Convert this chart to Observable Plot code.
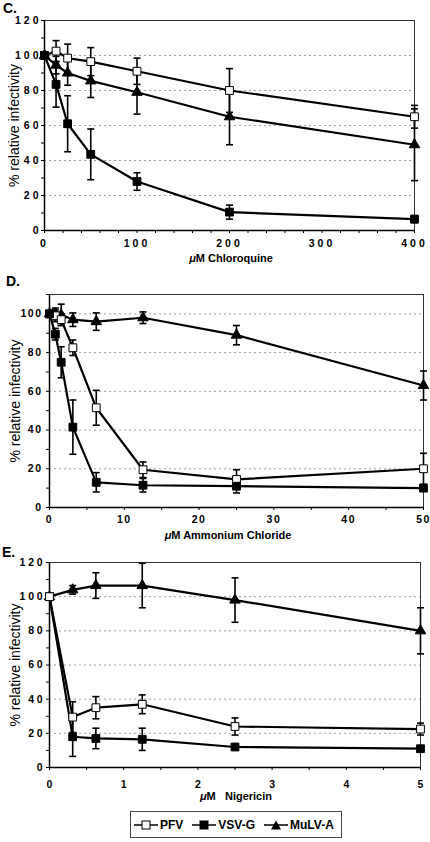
<!DOCTYPE html>
<html><head><meta charset="utf-8">
<script src="https://cdn.jsdelivr.net/npm/d3@7"></script>
<script src="https://cdn.jsdelivr.net/npm/@observablehq/plot@0.6"></script>
<style>
body{margin:0;background:#fff;}
#root{position:relative;width:430px;height:842px;overflow:hidden;font-family:"Liberation Sans",Arial,sans-serif;color:#000;}
.panel{position:absolute;left:0;}
.plabel{position:absolute;font-weight:bold;font-size:14px;line-height:14px;}
.xtitle{position:absolute;font-weight:bold;font-size:11px;line-height:12px;text-align:center;white-space:pre;}
svg.pc g[aria-label="y-axis tick label"] text, svg.pc g[aria-label="x-axis tick label"] text{letter-spacing:3px;}
svg.pd g[aria-label="y-axis tick label"] text, svg.pd g[aria-label="x-axis tick label"] text{letter-spacing:1.5px;}
svg.pe g[aria-label="y-axis tick label"] text{letter-spacing:2.8px;}
#legend{position:absolute;left:130px;top:811px;height:25px;padding-right:2px;border:1.5px solid #444;display:flex;align-items:center;font-weight:bold;font-size:12px;white-space:nowrap;box-sizing:content-box;}
#legend .it{display:flex;align-items:center;margin-left:3px;white-space:nowrap;}
#legend .it span{margin-left:2px;margin-right:6px;}
#legend .it:last-child span{margin-right:5px;}
</style></head><body><div id="root"></div>
<script>
const seriesNames = ["PFV", "VSV-G", "MuLV-A"];
const yTitle = "% relative infectivity";

// Panel C: Chloroquine
const chloroquineDose = [0, 12.5, 25, 50, 100, 200, 400];
const chloroquinePFV = [100, 102.5, 98.5, 96.5, 91, 80, 65];
const chloroquinePFVsd = [0, 6, 8, 8, 7.5, 12.5, 6.5];
const chloroquineVSV = [100, 83.5, 61, 43.5, 28, 10.5, 6.5];
const chloroquineVSVsd = [0, 13, 16, 14.5, 5, 4, 2];
const chloroquineMuLV = [100, 94.5, 90, 85.5, 79, 65, 49];
const chloroquineMuLVsd = [0, 5, 7, 9.5, 12.5, 16, 20.5];
const chloroquineXLabels = [0, 100, 200, 300, 400];
const chloroquineYLabels = [0, 20, 40, 60, 80, 100, 120];

// Panel D: Ammonium Chloride
const ammoniumDose = [0, 0.78, 1.56, 3.125, 6.25, 12.5, 25, 50];
const ammoniumPFV = [100, 99, 97, 82.5, 51.5, 19.5, 14.5, 20];
const ammoniumPFVsd = [0, 3, 3, 4, 9, 4, 5, 8];
const ammoniumVSV = [100, 89.5, 75, 41.5, 13, 11.5, 11, 10];
const ammoniumVSVsd = [0, 3, 8, 14, 5, 3.5, 3.5, 1.5];
const ammoniumMuLV = [100, 100, 99.5, 97, 96, 98, 89, 63];
const ammoniumMuLVsd = [0, 3, 5.5, 3.5, 4.5, 3, 5, 7.5];
const ammoniumXLabels = [0, 10, 20, 30, 40, 50];
const ammoniumYLabels = [0, 20, 40, 60, 80, 100];

// Panel E: Nigericin
const nigericinDose = [0, 0.3125, 0.625, 1.25, 2.5, 5];
const nigericinPFV = [100, 29.5, 35, 37, 24, 22.5];
const nigericinPFVsd = [0, 9, 6.5, 5.5, 5, 3.5];
const nigericinVSV = [100, 18, 17, 16.5, 12, 11];
const nigericinVSVsd = [0, 11.5, 6, 6.5, 1.5, 1.5];
const nigericinMuLV = [100, 104, 106.5, 106.5, 98, 80];
const nigericinMuLVsd = [0, 2.5, 7.5, 13, 13, 13.5];
const nigericinXLabels = [0, 1, 2, 3, 4, 5];
const nigericinYLabels = [0, 20, 40, 60, 80, 100, 120];

const FONT = "Liberation Sans, Arial, sans-serif";
const capSymbol = {draw(ctx, size){ const w = Math.sqrt(size / Math.PI); ctx.moveTo(-w, 0); ctx.lineTo(w, 0); }};

function makePanel(cfg) {
  const rows = [];
  cfg.series.forEach(([name, vals, sds]) => vals.forEach((v, i) => rows.push({series: name, x: cfg.dose[i], y: v, sd: sds[i]})));
  const err = rows.filter(d => d.sd > 0);
  const xMinor = d3.range(cfg.xDomain[0], cfg.xDomain[1] + cfg.xStep / 2, cfg.xStep);
  const yMinor = d3.range(cfg.yDomain[0], cfg.yDomain[1] + 0.001, 10);
  const yGrid = cfg.yLabels.filter(v => v > cfg.yDomain[0] && v < cfg.yDomain[1]);
  const marks = [
    Plot.gridY(yGrid, {stroke: "#a0a0a0", strokeOpacity: 1, strokeDasharray: "2,3"}),
    Plot.frame({stroke: "#333", strokeWidth: 1}),
    Plot.axisY(yMinor, {tickFormat: d => cfg.yLabels.includes(d) ? String(d) : "", tickSize: 3, tickPadding: cfg.yPad, fontSize: cfg.fs, fontWeight: "bold", label: null}),
    Plot.axisX(xMinor, {tickFormat: d => cfg.xLabels.includes(d) ? String(d) : "", tickSize: 3, tickPadding: cfg.xPad, fontSize: cfg.fs, fontWeight: "bold", label: null}),
    Plot.ruleX([cfg.xDomain[0]], {stroke: "black", strokeWidth: 1.5}),
    Plot.ruleY([cfg.yDomain[0]], {stroke: "black", strokeWidth: 1.5}),
    Plot.ruleX(err, {x: "x", y1: d => d.y - d.sd, y2: d => d.y + d.sd, stroke: "black", strokeWidth: 1.6}),
    Plot.dot(err, {x: "x", y: d => d.y + d.sd, symbol: capSymbol, r: 3.5, stroke: "black", strokeWidth: 1.6}),
    Plot.dot(err, {x: "x", y: d => d.y - d.sd, symbol: capSymbol, r: 3.5, stroke: "black", strokeWidth: 1.6}),
    Plot.line(rows, {x: "x", y: "y", z: "series", stroke: "black", strokeWidth: 2.2}),
    ...cfg.order.map(name => Plot.dot(rows.filter(d => d.series === name), {
      x: "x", y: "y",
      symbol: name === "MuLV-A" ? "triangle" : "square",
      r: name === "MuLV-A" ? 3.9 : 4.4,
      fill: name === "PFV" ? "white" : "black",
      stroke: "black", strokeWidth: 1
    })),
    Plot.text([yTitle], {frameAnchor: "left", rotate: -90, dx: cfg.yTitleDx, textAnchor: "middle", fontSize: 14, fontFamily: FONT})
  ];
  const svg = Plot.plot({
    width: 430, height: cfg.height,
    marginTop: cfg.m[0], marginRight: cfg.m[1], marginBottom: cfg.m[2], marginLeft: cfg.m[3],
    className: cfg.cls,
    style: {fontFamily: FONT, background: "transparent", color: "black", overflow: "visible"},
    x: {domain: cfg.xDomain},
    y: {domain: cfg.yDomain},
    marks
  });
  svg.classList.add(cfg.cls);
  const wrap = document.createElement("div");
  wrap.className = "panel";
  wrap.style.top = cfg.top + "px";
  wrap.appendChild(svg);
  return wrap;
}

const root = document.getElementById("root");

root.appendChild(makePanel({
  cls: "pc", top: 0, height: 270, m: [20, 16, 40, 44],
  dose: chloroquineDose, xDomain: [0, 400], xStep: 20, xLabels: chloroquineXLabels,
  yDomain: [0, 120], yLabels: chloroquineYLabels, yPad: 0, xPad: 6, fs: 10.5, yTitleDx: -30,
  series: [["PFV", chloroquinePFV, chloroquinePFVsd], ["VSV-G", chloroquineVSV, chloroquineVSVsd], ["MuLV-A", chloroquineMuLV, chloroquineMuLVsd]],
  order: ["MuLV-A", "PFV", "VSV-G"]
}));
root.appendChild(makePanel({
  cls: "pd", top: 270, height: 272, m: [24, 7, 35, 49],
  dose: ammoniumDose, xDomain: [0, 50], xStep: 5, xLabels: ammoniumXLabels,
  yDomain: [0, 110], yLabels: ammoniumYLabels, yPad: 4, xPad: 5, fs: 10.5, yTitleDx: -34,
  series: [["PFV", ammoniumPFV, ammoniumPFVsd], ["VSV-G", ammoniumVSV, ammoniumVSVsd], ["MuLV-A", ammoniumMuLV, ammoniumMuLVsd]],
  order: ["MuLV-A", "PFV", "VSV-G"]
}));
root.appendChild(makePanel({
  cls: "pe", top: 542, height: 270, m: [20, 10, 45, 49],
  dose: nigericinDose, xDomain: [0, 5], xStep: 0.5, xLabels: nigericinXLabels,
  yDomain: [0, 120], yLabels: nigericinYLabels, yPad: 1, xPad: 10, fs: 10.5, yTitleDx: -34,
  series: [["PFV", nigericinPFV, nigericinPFVsd], ["VSV-G", nigericinVSV, nigericinVSVsd], ["MuLV-A", nigericinMuLV, nigericinMuLVsd]],
  order: ["VSV-G", "MuLV-A", "PFV"]
}));

function addDiv(cls, html, left, top, width) {
  const d = document.createElement("div");
  d.className = cls; d.innerHTML = html;
  d.style.left = left + "px"; d.style.top = top + "px";
  if (width) d.style.width = width + "px";
  root.appendChild(d);
}
addDiv("plabel", "C.", 3, 1);
addDiv("plabel", "D.", 6, 274);
addDiv("plabel", "E.", 2, 545);
addDiv("xtitle", "<i>μ</i>M Chloroquine", 131, 252, 200);
addDiv("xtitle", "<i>μ</i>M Ammonium Chloride", 128, 529, 200);
addDiv("xtitle", "<i>μ</i>M   Nigericin", 136, 790, 200);

// Legend
const legend = document.createElement("div");
legend.id = "legend";
seriesNames.forEach(name => {
  const it = document.createElement("div");
  it.className = "it";
  const sym = name === "MuLV-A"
    ? `<path d="M12,1.5 L17,10.5 L7,10.5 Z" fill="black"/>`
    : `<rect x="8" y="2" width="8" height="8" fill="${name === "PFV" ? "white" : "black"}" stroke="black" stroke-width="1"/>`;
  it.innerHTML = `<svg width="24" height="12"><line x1="0" x2="24" y1="6" y2="6" stroke="black" stroke-width="1.5"/>${sym}</svg><span>${name}</span>`;
  legend.appendChild(it);
});
root.appendChild(legend);
</script>
</body></html>
